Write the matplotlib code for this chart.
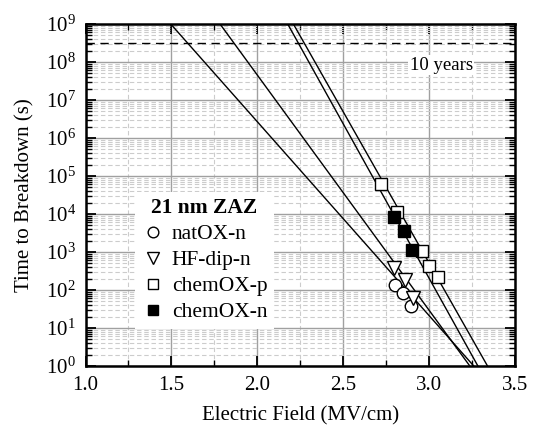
import numpy as np
import matplotlib
matplotlib.use("Agg")
import matplotlib.pyplot as plt
from matplotlib.ticker import LogLocator, MultipleLocator, NullFormatter, FormatStrFormatter

plt.rcParams['font.family'] = ['Liberation Serif', 'DejaVu Serif']
plt.rcParams['mathtext.fontset'] = 'custom'
plt.rcParams['mathtext.rm'] = 'Liberation Serif'

# data points (Electric field MV/cm, time to breakdown s)
natox_x = [2.80, 2.85, 2.897]
natox_t = [134, 85, 38]
hfdip_x = [2.797, 2.858, 2.904]
hfdip_t = [370, 182, 60]
chemp_x = [2.718, 2.811, 2.957, 3.001, 3.05]
chemp_t = [6.2e4, 1.15e4, 1.07e3, 440, 225]
chemn_x = [2.797, 2.855, 2.901]
chemn_t = [8.5e3, 3.5e3, 1.1e3]

# fitted lines: field at which t = 1e9 s and t = 1e0 s
fit_names = ['natOX-n', 'HF-dip-n', 'chemOX-n', 'chemOX-p']
fit_x_top = [1.496, 1.783, 2.177, 2.21]
fit_x_bottom = [3.26, 3.237, 3.284, 3.34]
fit_t = [1e9, 1e0]

ten_years = 3.15e7 * 10

FS = 15
LFS = 15.5

fig = plt.figure(figsize=(5.38, 4.29), dpi=100)
ax = fig.add_axes([85.5/538, 1-366/429, (515-85.5)/538, (366-24)/429])

ax.set_xlim(1.0, 3.5)
ax.set_yscale('log')
ax.set_ylim(1, 1e9)

# grids
ax.xaxis.set_major_locator(MultipleLocator(0.5))
ax.xaxis.set_minor_locator(MultipleLocator(0.25))
ax.xaxis.set_major_formatter(FormatStrFormatter('%.1f'))
ax.yaxis.set_major_locator(LogLocator(base=10, numticks=20))
ax.yaxis.set_minor_locator(LogLocator(base=10, subs=np.arange(2, 10), numticks=20))
ax.yaxis.set_minor_formatter(NullFormatter())
ax.grid(True, which='major', color='#a0a0a0', lw=1.0, ls='-', zorder=0)
ax.grid(True, which='minor', color='#cccccc', lw=0.8, ls=(0, (4, 2.5)), zorder=0)
ax.set_axisbelow(True)

# fit lines
for xt, xb in zip(fit_x_top, fit_x_bottom):
    ax.plot([xt, xb], fit_t, color='black', lw=1.0, zorder=3)

# 10 years line
ax.axhline(ten_years, color='black', lw=1.0, ls=(0, (6, 4)), zorder=3)
ax.text(3.07, 8.3e7, '10 years', fontsize=13.5, ha='center', va='center',
        bbox=dict(facecolor='white', edgecolor='none', pad=1), zorder=4)

ms = 9
h1, = ax.plot(natox_x, natox_t, 'o', ms=ms, mfc='white', mec='black', mew=1.0, ls='none', zorder=5, label='natOX-n')
h2, = ax.plot(hfdip_x, hfdip_t, 'v', ms=ms+1, mfc='white', mec='black', mew=1.0, ls='none', zorder=5, label='HF-dip-n')
h3, = ax.plot(chemp_x, chemp_t, 's', ms=ms, mfc='white', mec='black', mew=1.0, ls='none', zorder=5, label='chemOX-p')
h4, = ax.plot(chemn_x, chemn_t, 's', ms=ms, mfc='black', mec='black', mew=1.0, ls='none', zorder=6, label='chemOX-n')

leg = ax.legend(handles=[h1, h2, h3, h4], title='21 nm ZAZ', loc='upper left',
                bbox_to_anchor=(0.115, 0.51), borderaxespad=0, fontsize=LFS, frameon=True,
                fancybox=False, edgecolor='none', framealpha=1.0,
                handletextpad=0.35, borderpad=0.3, labelspacing=0.28,
                handlelength=1.07, markerscale=0.85)
leg.get_title().set_fontweight('bold')
leg.get_title().set_fontsize(LFS)
leg.set_zorder(7)

# ticks
ax.tick_params(which='major', direction='in', length=7, width=1.3, top=True, right=True, labelsize=FS, pad=7)
ax.tick_params(which='minor', direction='in', length=4, width=1.0, top=True, right=True)
for s in ax.spines.values():
    s.set_linewidth(1.8)

ax.set_xlabel('Electric Field (MV/cm)', fontsize=FS, labelpad=8)
ax.set_ylabel('Time to Breakdown (s)', fontsize=FS, labelpad=8)

fig.savefig('out.png', dpi=100)
